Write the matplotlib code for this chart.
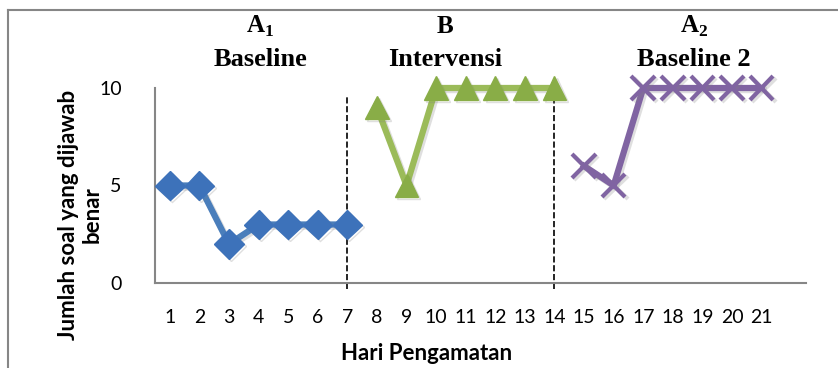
import numpy as np
import matplotlib
matplotlib.use("Agg")
import matplotlib.pyplot as plt
import matplotlib.patheffects as pe
from matplotlib.lines import Line2D

# data
hari = list(range(1, 22))
baseline1_x = [1, 2, 3, 4, 5, 6, 7]
baseline1_y = [5, 5, 2, 3, 3, 3, 3]
intervensi_x = [8, 9, 10, 11, 12, 13, 14]
intervensi_y = [9, 5, 10, 10, 10, 10, 10]
baseline2_x = [15, 16, 17, 18, 19, 20, 21]
baseline2_y = [6, 5, 10, 10, 10, 10, 10]
batas_fase = [7, 14]

plt.rcParams['mathtext.fontset'] = 'custom'
plt.rcParams['mathtext.rm'] = 'Liberation Serif:bold'
plt.rcParams['mathtext.bf'] = 'Liberation Serif:bold'

fig = plt.figure(figsize=(8.38, 3.68), dpi=100)
ax = fig.add_axes([155/838, 1 - 283/368, (806 - 155)/838, (283 - 88)/368])

shadow = [pe.SimpleLineShadow(offset=(1.5, -1.5), alpha=0.25, shadow_color='grey'), pe.Normal()]

ax.plot(baseline1_x, baseline1_y, color='#4A7EBB', lw=4.5, marker='D', ms=15,
        mfc='#3D72BA', mec='#3D72BA', path_effects=shadow, clip_on=False, zorder=3)
ax.plot(intervensi_x, intervensi_y, color='#9BBB59', lw=4.5, marker='^', ms=17,
        mfc='#89AD47', mec='#89AD47', path_effects=shadow, clip_on=False, zorder=3)
ax.plot(baseline2_x, baseline2_y, color='#8064A2', lw=4.5, marker='x', ms=17, mew=3,
        mec='#8064A2', path_effects=shadow, clip_on=False, zorder=3)

# garis batas fase
ax.axvline(batas_fase[0], ymin=-0.03, ymax=0.955, color='black', ls='--', lw=1.2,
           clip_on=False, zorder=2)
ax.axvline(batas_fase[1], ymin=-0.03, ymax=1.02, color='black', ls='--', lw=1.2,
           clip_on=False, zorder=2)

ax.set_xlim(0.5, 22.5)
ax.set_ylim(0, 10)
ax.set_xticks(hari)
ax.set_xticklabels([str(h) for h in hari], family='Lato', fontsize=14)
ax.set_yticks([0, 5, 10])
ax.set_yticklabels(['0', '5', '10'], family='Lato', fontsize=14)
ax.tick_params(length=0, pad=19)
ax.tick_params(axis='y', pad=24)
for s in ['top', 'right']:
    ax.spines[s].set_visible(False)
for s in ['left', 'bottom']:
    ax.spines[s].set_color('#868686')
    ax.spines[s].set_linewidth(1.5)

fig.text(80/838, 1 - 215/368, 'Jumlah soal yang dijawab\nbenar', rotation=90,
         ha='center', va='center', family='Lato', fontweight='bold', fontsize=16,
         linespacing=1.15)
fig.text(427/838, 1 - 354/368, 'Hari Pengamatan', ha='center', va='center',
         family='Lato', fontweight='bold', fontsize=16)

# judul fase
judul = [(260, r'$\mathbf{A}_{\mathbf{1}}$', 'Baseline'),
         (445, r'$\mathbf{B}$', 'Intervensi'),
         (694, r'$\mathbf{A}_{\mathbf{2}}$', 'Baseline 2')]
for xp, atas, bawah in judul:
    fig.text(xp/838, 1 - 26/368, atas, ha='center', va='center', fontsize=18)
    fig.text(xp/838, 1 - 60/368, bawah, ha='center', va='center',
             family='Liberation Serif', fontweight='bold', fontsize=19)

# bingkai luar
fig.add_artist(Line2D([8/838, 8/838], [0, 1 - 10/368], color='#868686', lw=1.5))
fig.add_artist(Line2D([8/838, 1], [1 - 10/368, 1 - 10/368], color='#868686', lw=1.5))

fig.savefig('out.png', dpi=100)
